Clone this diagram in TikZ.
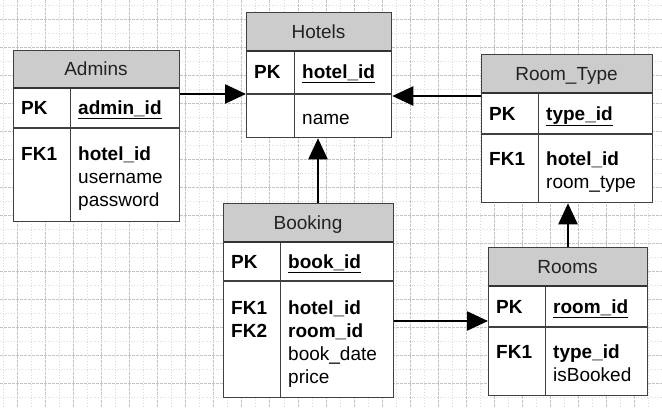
\documentclass[tikz,border=0pt]{standalone}
\usepackage{fontspec}
\setmainfont{Liberation Sans}
\usetikzlibrary{arrows.meta}
\definecolor{hdrgray}{HTML}{CCCCCC}
\definecolor{bordergray}{HTML}{404040}
\definecolor{gridminor}{HTML}{DADADA}
\definecolor{gridmajor}{HTML}{C4C4C4}
\definecolor{titletext}{HTML}{222222}
\tikzset{
  tblborder/.style={draw=bordergray, line width=1.3pt},
  tblsep/.style={draw=black!80, line width=1.4pt},
  tbldiv/.style={draw=bordergray, line width=1pt},
  tbltitle/.style={anchor=base, inner sep=0pt, text=titletext, font=\fontsize{19}{23}\selectfont},
  tblkey/.style={anchor=base west, inner sep=0pt, font=\fontsize{19}{23}\selectfont\bfseries},
  tblfield/.style={anchor=base west, inner sep=0pt, font=\fontsize{19}{23}\selectfont},
  fkarrow/.style={draw=black, line width=2.4pt, -{Triangle[length=21pt,width=19pt]}},
  gridmin/.style={draw=gridminor, line width=0.8pt, dotted},
  gridmaj/.style={draw=gridmajor, line width=0.8pt, dash pattern=on 2.5pt off 1.5pt},
}
% #1 name, #2 left, #3 top, #4 right, #5 header bottom, #6 pk bottom, #7 bottom, #8 divider
\newcommand\ertable[8]{%
  \pgfmathsetmacro\tw{#4-#2}%
  \pgfmathsetmacro\th{#7-#3}%
  \fill[white] (#2,#3) rectangle (#4,#7);
  \fill[hdrgray] (#2,#3) rectangle (#4,#5);
  \draw[tbldiv] (#8,#5) -- (#8,#7);
  \draw[tblsep] (#2,#5) -- (#4,#5);
  \draw[tblsep, draw=bordergray] (#2,#6) -- (#4,#6);
  \node[tblborder, fill=none, minimum width=\tw pt, minimum height=\th pt, inner sep=0pt, anchor=north west] (#1) at (#2,#3) {};
}
\begin{document}
\begin{tikzpicture}[x=1pt, y=-1pt]
\useasboundingbox (0,0) rectangle (662,408);
\fill[white] (0,0) rectangle (662,408);
% background grid
\foreach \k in {0,...,47} {
  \pgfmathsetmacro\gx{3.3+14.03*\k}
  \ifodd\k
    \draw[gridmaj] (\gx,0) -- (\gx,408);
  \else
    \draw[gridmin] (\gx,0) -- (\gx,408);
  \fi
}
\foreach \k in {0,...,28} {
  \pgfmathsetmacro\gy{5+14.03*\k}
  \ifodd\k
    \draw[gridmaj] (0,\gy) -- (662,\gy);
  \else
    \draw[gridmin] (0,\gy) -- (662,\gy);
  \fi
}

% Admins
\ertable{admins}{13}{50}{179}{88}{128}{221}{70}
\node[tbltitle] (admins-t) at (96,75.5) {Admins};
\node[tblkey] (admins-pk) at (21,114.5) {PK};
\node[tblkey] (admins-pkf) at (78,114.5) {\underline{admin\_id}};
\node[tblkey] (admins-fk) at (21,160) {FK1};
\node[tblkey] (admins-f1) at (78,160) {hotel\_id};
\node[tblfield] (admins-f2) at (78,183) {username};
\node[tblfield] (admins-f3) at (78,206) {password};

% Hotels
\ertable{hotels}{246}{12}{391}{51}{94}{137}{294}
\node[tbltitle] (hotels-t) at (318.5,38) {Hotels};
\node[tblkey] (hotels-pk) at (254,78.5) {PK};
\node[tblkey] (hotels-pkf) at (302,78.5) {\underline{hotel\_id}};
\node[tblfield] (hotels-f1) at (302,124) {name};

% Room_Type
\ertable{roomtype}{481}{54}{652}{93}{134}{202}{538}
\node[tbltitle] (roomtype-t) at (566.5,80) {Room\_Type};
\node[tblkey] (roomtype-pk) at (489,120) {PK};
\node[tblkey] (roomtype-pkf) at (546,120) {\underline{type\_id}};
\node[tblkey] (roomtype-fk) at (489,165) {FK1};
\node[tblkey] (roomtype-f1) at (546,165) {hotel\_id};
\node[tblfield] (roomtype-f2) at (546,188) {room\_type};

% Booking
\ertable{booking}{223}{203}{393}{242}{281}{397}{280}
\node[tbltitle] (booking-t) at (308,229) {Booking};
\node[tblkey] (booking-pk) at (231,268) {PK};
\node[tblkey] (booking-pkf) at (288,268) {\underline{book\_id}};
\node[tblkey] (booking-fk1) at (231,314) {FK1};
\node[tblkey] (booking-fk2) at (231,337) {FK2};
\node[tblkey] (booking-f1) at (288,314) {hotel\_id};
\node[tblkey] (booking-f2) at (288,337) {room\_id};
\node[tblfield] (booking-f3) at (288,360) {book\_date};
\node[tblfield] (booking-f4) at (288,383) {price};

% Rooms
\ertable{rooms}{488}{247}{647}{286}{327}{395}{545}
\node[tbltitle] (rooms-t) at (567.5,273) {Rooms};
\node[tblkey] (rooms-pk) at (496,313) {PK};
\node[tblkey] (rooms-pkf) at (553,313) {\underline{room\_id}};
\node[tblkey] (rooms-fk) at (496,358) {FK1};
\node[tblkey] (rooms-f1) at (553,358) {type\_id};
\node[tblfield] (rooms-f2) at (553,381) {isBooked};

% relationships
\coordinate (yAH) at (0,94);
\coordinate (yRH) at (0,96);
\coordinate (yBR) at (0,321);
\coordinate (xBH) at (318,0);
\coordinate (xRR) at (568,0);
\draw[fkarrow] (admins.east |- yAH) -- (hotels.west |- yAH);
\draw[fkarrow] (roomtype.west |- yRH) -- (hotels.east |- yRH);
\draw[fkarrow] (xBH |- booking.north) -- (xBH |- hotels.south);
\draw[fkarrow] (booking.east |- yBR) -- (rooms.west |- yBR);
\draw[fkarrow] (xRR |- rooms.north) -- (xRR |- roomtype.south);
\end{tikzpicture}
\end{document}
